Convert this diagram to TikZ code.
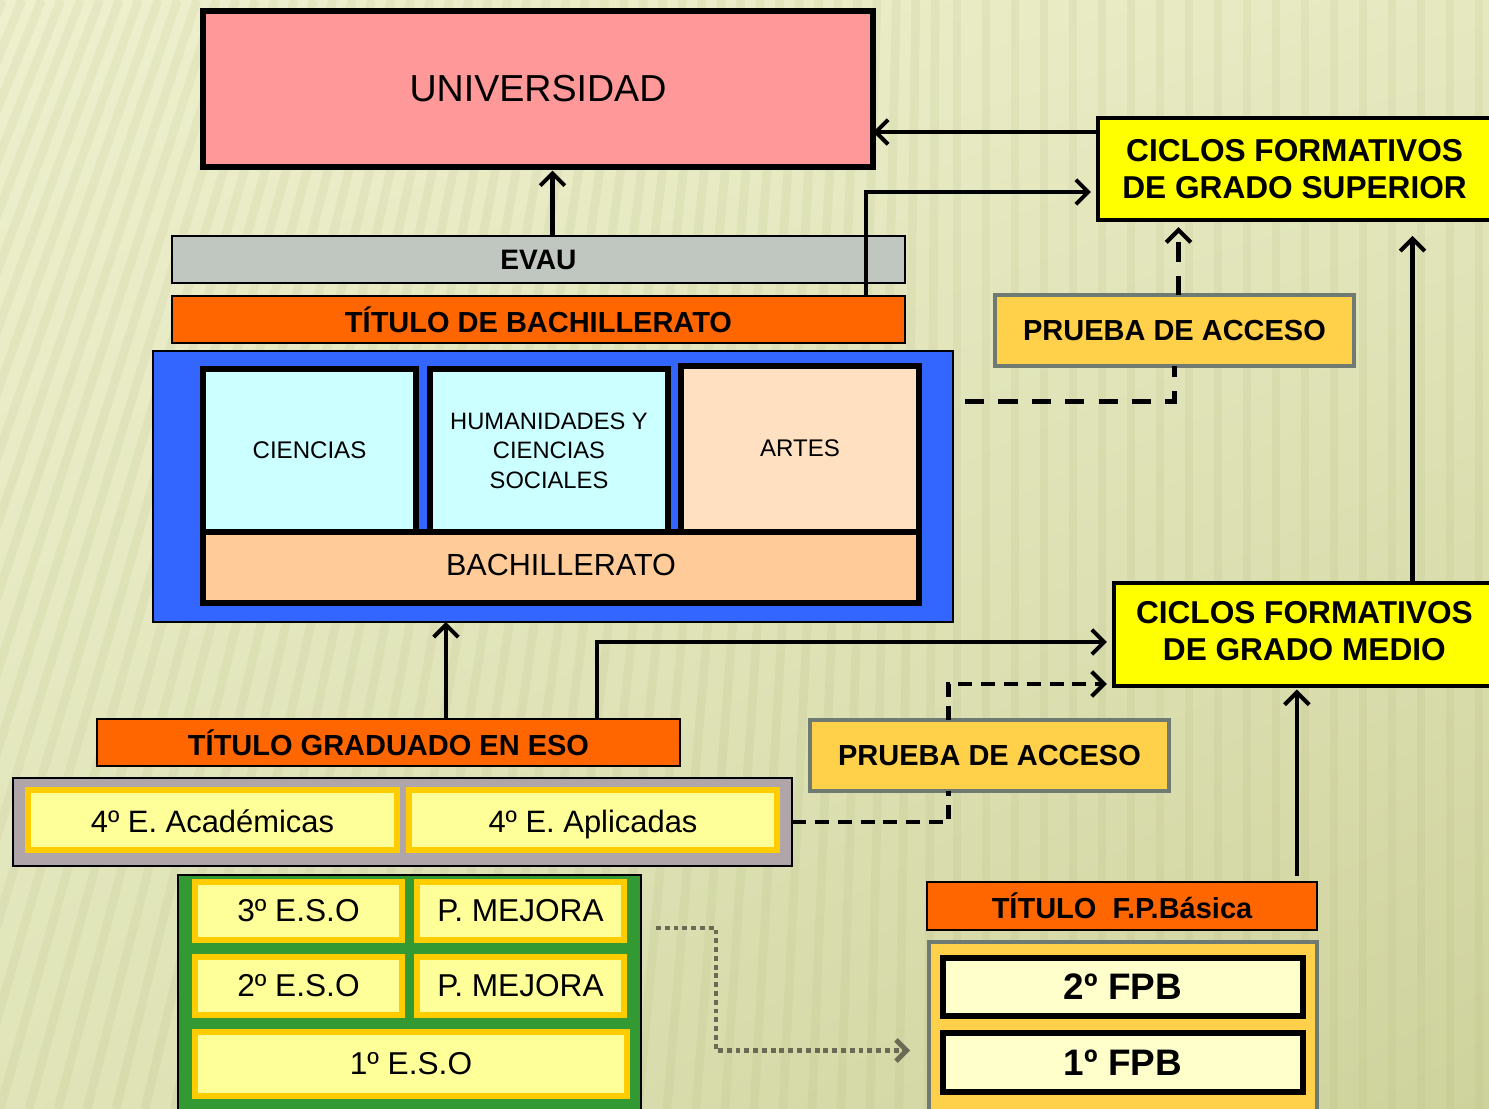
\documentclass[tikz,border=0pt]{standalone}
\usepackage{fontspec}
\setmainfont{Liberation Sans}
\usetikzlibrary{arrows.meta,shadings}
\definecolor{bgA}{RGB}{238,240,206}
\definecolor{bgB}{RGB}{230,233,192}
\definecolor{bgC}{RGB}{224,228,184}
\definecolor{bgD}{RGB}{206,210,156}
\definecolor{stripec}{RGB}{160,166,100}
\definecolor{univc}{HTML}{FF9999}
\definecolor{evauc}{HTML}{BFC7C0}
\definecolor{orangec}{HTML}{FF6600}
\definecolor{bluec}{HTML}{3366FF}
\definecolor{cyanc}{HTML}{CCFFFF}
\definecolor{artesc}{HTML}{FFE0C0}
\definecolor{bachc}{HTML}{FFCC99}
\definecolor{yellowc}{HTML}{FFFF00}
\definecolor{pruebac}{HTML}{FFD04A}
\definecolor{pruebab}{HTML}{6F7B72}
\definecolor{grayc}{HTML}{B0A6AA}
\definecolor{lyellow}{HTML}{FFFF99}
\definecolor{goldc}{HTML}{FFCC00}
\definecolor{greenc}{HTML}{339933}
\definecolor{fpbin}{HTML}{FFFFCC}
\definecolor{dotc}{HTML}{6B6B55}
\newcommand\fsz[2]{\fontsize{#1pt}{#2pt}\selectfont}
% box node: style, name, x1, y1, x2, y2, text  (pixel coordinates of border centre line)
\newcommand\bnode[7]{\node[#1, minimum width={(#5-#3)*0.02cm}, minimum height={(#6-#4)*0.02cm}]
  (#2) at ({(#3+#5)/2},{(#4+#6)/2}) {#7};}
\tikzset{
  bx/.style={inner sep=0pt, outer sep=0pt, align=center, text=black, draw},
  thinbox/.style={bx, line width=0.8pt},
  thickblack/.style={bx, line width=3.4pt},
  cicbox/.style={bx, line width=2.3pt, fill=yellowc, font=\bfseries\fsz{18}{20.8}},
  pruebabox/.style={bx, line width=2.4pt, draw=pruebab, fill=pruebac, font=\bfseries\fsz{16.5}{19}},
  titlebox/.style={thinbox, fill=orangec, font=\bfseries\fsz{16.5}{19}},
  yelbox/.style={bx, line width=3.2pt, draw=goldc, fill=lyellow},
  fpbinner/.style={bx, line width=3.4pt, fill=fpbin, font=\bfseries\fsz{21}{24}},
  arr/.style={line width=2.3pt, draw=black, -{Straight Barb[length=7pt,width=14pt]}},
  dshA/.style={line width=2.4pt, draw=black, dash pattern=on 11pt off 8pt},
  dshB/.style={line width=2.4pt, draw=black, dash pattern=on 8pt off 5pt},
  dotline/.style={line width=2.8pt, draw=dotc, dash pattern=on 2.8pt off 2.2pt,
     -{Straight Barb[length=6pt,width=12pt]}},
  stripe/.style={line width=5pt, draw=stripec, draw opacity=0.10}
}
\begin{document}
\begin{tikzpicture}[x=0.02cm,y=-0.02cm]
\useasboundingbox (0,0) rectangle (1489,1109);
\shade[upper left=bgA, upper right=bgB, lower left=bgC, lower right=bgD] (0,0) rectangle (1489,1109);
\begin{scope}
\clip (0,0) rectangle (1489,1109);
\foreach \i in {-40,...,52} {
  \pgfmathsetmacro\xa{\i*29}
  \pgfmathsetmacro\dd{max(0,(950-\xa)*0.33)}
  \draw[stripe] (\xa,1109) -- ({\xa+\dd},0);
}
\end{scope}

% University and top
\bnode{thickblack, fill=univc, font=\fsz{21.4}{25}}{univ}{203}{11}{873}{167}{UNIVERSIDAD}
\bnode{thinbox, fill=evauc, font=\bfseries\fsz{16}{19}}{evau}{172}{236}{905}{283}{\raisebox{-2pt}{EVAU}}
\bnode{titlebox}{tbach}{172}{296}{905}{343}{\raisebox{-2pt}{TÍTULO DE BACHILLERATO}}

% Bachillerato block
\bnode{thinbox, fill=bluec}{blue}{153}{351}{953}{622}{}
\bnode{thickblack, fill=cyanc, font=\fsz{13.7}{16}}{cien}{203}{369}{416}{532}{CIENCIAS}
\bnode{thickblack, fill=cyanc, font=\fsz{13.5}{16.8}}{hum}{430}{369}{668}{532}{HUMANIDADES Y\\CIENCIAS\\SOCIALES}
\bnode{thickblack, fill=artesc, font=\fsz{13.7}{16}}{artes}{681}{366}{919}{532}{\raisebox{1pt}{ARTES}}
\bnode{thickblack, fill=bachc, font=\fsz{17.4}{20}}{bach}{203}{532}{919}{603}{\raisebox{3pt}{BACHILLERATO}}

% Ciclos formativos
\bnode{cicbox}{cfgs}{1098}{118}{1500}{220}{\hspace*{-5pt}CICLOS FORMATIVOS\\\hspace*{-5pt}DE GRADO SUPERIOR}
\bnode{pruebabox}{p1}{995}{295}{1354}{366}{PRUEBA DE ACCESO}
\bnode{cicbox}{cfgm}{1114}{583}{1500}{686}{\raisebox{2.5pt}{\begin{tabular}{@{}c@{}}\hspace*{-3pt}CICLOS FORMATIVOS\\\hspace*{-3pt}DE GRADO MEDIO\end{tabular}}}
\bnode{pruebabox}{p2}{810}{720}{1169}{791}{PRUEBA DE ACCESO}

% ESO
\bnode{titlebox}{teso}{97}{719}{680}{766}{\raisebox{-2pt}{TÍTULO GRADUADO EN ESO}}
\bnode{bx, line width=1.1pt, fill=grayc}{gray}{13}{778}{792}{866}{}
\bnode{yelbox, font=\fsz{17.6}{20}, text height=17pt, text depth=3pt}{acad}{28}{790}{397}{850}{4º E. Académicas}
\bnode{yelbox, font=\fsz{17.6}{20}, text height=17pt, text depth=3pt}{apl}{409}{790}{777}{850}{4º E. Aplicadas}

\bnode{thinbox, fill=greenc}{green}{178}{875}{641}{1120}{}
\bnode{yelbox, font=\fsz{18}{21}}{e3}{195}{882}{402}{940}{3º E.S.O}
\bnode{yelbox, font=\fsz{18}{21}}{pm3}{417}{882}{624}{940}{P. MEJORA}
\bnode{yelbox, font=\fsz{18}{21}}{e2}{195}{957}{402}{1015}{2º E.S.O}
\bnode{yelbox, font=\fsz{18}{21}}{pm2}{417}{957}{624}{1015}{P. MEJORA}
\bnode{yelbox, font=\fsz{18}{21}}{e1}{195}{1032}{627}{1096}{1º E.S.O}

% FP Basica
\bnode{titlebox}{tfpb}{927}{882}{1317}{930}{TÍTULO\ \ F.P.Básica}
\bnode{bx, line width=2.8pt, draw=pruebab, fill=pruebac}{fpbbox}{929}{942}{1317}{1120}{}
\bnode{fpbinner}{fpb2}{943}{958}{1303}{1016}{2º FPB}
\bnode{fpbinner}{fpb1}{943}{1033}{1303}{1092}{1º FPB}

% Connectors
\coordinate (c1) at ([yshift=0.74cm]cfgs.west);
\draw[arr] (c1) -- (c1 -| univ.east);

\coordinate (e1a) at ([xshift=0.28cm]evau.north);
\draw[arr, shorten >=2pt] (e1a) -- (e1a |- univ.south);

\coordinate (b1) at ([xshift=-0.78cm]tbach.north east);
\coordinate (s1) at ([yshift=-0.46cm]cfgs.west);
\draw[arr, shorten >=4pt] (b1) |- (s1);

\coordinate (d1) at ([xshift=0.24cm,yshift=1.7cm]blue.east);
\draw[dshA] (d1) -| (p1.south);
\coordinate (p1n) at ([xshift=0.08cm]p1.north);
\draw[dshA, -{Straight Barb[length=7pt,width=14pt]}, shorten >=4pt] (p1n) -- (p1n |- cfgs.south);

\coordinate (g1) at ([xshift=2.11cm]cfgm.north);
\draw[arr, shorten >=9pt] (g1) -- (g1 |- cfgs.south);

\coordinate (t1) at ([xshift=1.15cm]teso.north);
\draw[arr] (t1) -- (t1 |- blue.south);

\coordinate (t2) at ([xshift=4.17cm]teso.north);
\coordinate (m1) at ([yshift=-0.15cm]cfgm.west);
\draw[arr, shorten >=4pt] (t2) |- (m1);

\coordinate (q1) at ([xshift=-0.82cm]p2.south);
\draw[dshB] (gray.east) -| (q1);
\coordinate (q2) at ([xshift=-0.82cm]p2.north);
\coordinate (m2) at ([yshift=0.04cm]cfgm.south west);
\draw[dshB, -{Straight Barb[length=7pt,width=14pt]}, shorten >=4pt] (q2) |- (m2);

\coordinate (o1) at ([xshift=0.3cm,yshift=-1.06cm]green.north east);
\coordinate (o2) at ([xshift=-0.38cm,yshift=-0.39cm]fpbbox.west);
\draw[dotline] (o1) -- ++(1.2cm,0) |- (o2);

\coordinate (f1) at ([xshift=3.5cm,yshift=0.12cm]tfpb.north);
\draw[arr, shorten >=2pt] (f1) -- (f1 |- cfgm.south);
\end{tikzpicture}
\end{document}
